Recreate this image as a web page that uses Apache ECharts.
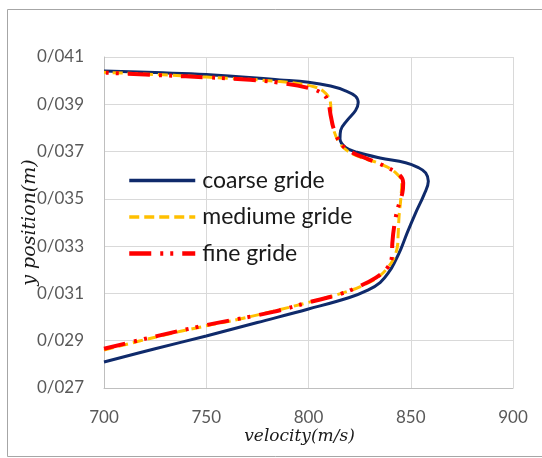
<!DOCTYPE html>
<html>
<head>
<meta charset="utf-8">
<script src="https://cdn.jsdelivr.net/npm/echarts@6/dist/echarts.min.js"></script>
<style>html,body{margin:0;padding:0;background:#fff}#c{width:542px;height:458px}</style>
</head>
<body>
<div id="c"></div>
<script>
// [velocity (m/s), y position (m)]
var coarseGrid = [
  [700.0,0.02810],[725.0,0.02866],[750.0,0.02920],[775.0,0.02977],[800.0,0.03034],
  [820.0,0.03083],[829.0,0.03114],[835.0,0.03146],[839.7,0.03195],[842.3,0.03235],
  [845.1,0.03286],[848.3,0.03357],[852.4,0.03441],[856.5,0.03518],[858.6,0.03574],
  [857.3,0.03610],[853.5,0.03633],[847.5,0.03653],[835.0,0.03673],[823.8,0.03697],
  [818.1,0.03718],[815.4,0.03754],[815.7,0.03789],[818.9,0.03832],[823.0,0.03874],
  [824.3,0.03906],[823.0,0.03934],[818.1,0.03957],[810.8,0.03977],[800.0,0.03993],
  [786.0,0.04003],[750.0,0.04026],[725.0,0.04034],[700.0,0.04041]
];
var mediumGrid = [
  [700.0,0.02860],[725.0,0.02915],[750.0,0.02963],[766.5,0.02992],[800.0,0.03062],
  [820.0,0.03111],[828.5,0.03142],[834.8,0.03174],[839.0,0.03212],[841.5,0.03245],
  [843.5,0.03300],[843.8,0.03342],[844.3,0.03427],[845.1,0.03497],[845.6,0.03568],
  [842.7,0.03610],[835.1,0.03648],[825.4,0.03676],[818.9,0.03704],[814.9,0.03740],
  [812.4,0.03789],[811.1,0.03846],[810.8,0.03903],[808.4,0.03946],[802.7,0.03974],
  [786.0,0.03996],[750.0,0.04015],[725.0,0.04026],[700.0,0.04035]
];
var fineGrid = [
  [700.0,0.02866],[725.0,0.02918],[750.0,0.02966],[782.7,0.03022],[800.0,0.03062],
  [815.3,0.03097],[824.0,0.03127],[833.0,0.03167],[838.6,0.03209],[840.8,0.03258],
  [841.0,0.03314],[841.9,0.03384],[843.5,0.03455],[845.9,0.03525],[846.3,0.03568],
  [844.3,0.03603],[838.0,0.03635],[829.7,0.03666],[821.0,0.03698],[816.0,0.03732],
  [812.6,0.03790],[811.0,0.03846],[809.5,0.03912],[807.0,0.03944],[800.0,0.03969],
  [785.0,0.03992],[771.4,0.04004],[750.0,0.04014],[730.0,0.04022],[700.0,0.04034]
];
var seriesNames = ['coarse gride','mediume gride','fine gride'];
var xTicks = {min:700, max:900, interval:50};
var yTicks = {min:0.027, max:0.041, interval:0.002};

var chart = echarts.init(document.getElementById('c'), null, {renderer:'canvas'});
var labelColor = '#595959';
var colors = ['#0f2a6b','#ffc000','#ff0000'];
var widths = [3.5,3.5,4.5];
var dashes = ['solid',[10,5],[22,9,3,7,3,9]];
chart.setOption({
  backgroundColor:'#ffffff',
  animation:false,
  graphic:[{type:'rect', shape:{x:7.5,y:9.5,width:545,height:447}, style:{fill:'none',stroke:'#a6a6a6',lineWidth:1}, silent:true}],
  grid:{left:104, right:29, top:57, bottom:70},
  legend:{
    orient:'vertical', left:122, top:164,
    itemWidth:66, itemHeight:22, itemGap:13.5,
    data:seriesNames.map(function(n,i){return {name:n, lineStyle:{color:colors[i], width:widths[i], type:dashes[i]}};}),
    itemStyle:{opacity:0},
    textStyle:{fontFamily:'Lato', fontSize:23, color:'#1a1a1a', lineHeight:22, padding:[0,0,0,2]}
  },
  xAxis:{
    type:'value', min:xTicks.min, max:xTicks.max, interval:xTicks.interval,
    name:'velocity(m/s)', nameLocation:'middle', nameGap:40, nameMoveOverlap:false,
    nameTextStyle:{fontFamily:'DejaVu Serif', fontStyle:'italic', fontSize:17, color:'#1a1a1a', padding:[0,18,0,0]},
    axisLine:{lineStyle:{color:'#bfbfbf'}}, axisTick:{show:false},
    axisLabel:{fontFamily:'Lato', fontSize:17, color:labelColor, margin:21},
    splitLine:{lineStyle:{color:'#d9d9d9'}}
  },
  yAxis:{
    type:'value', min:yTicks.min, max:yTicks.max, interval:yTicks.interval,
    name:'y position(m)', nameLocation:'middle', nameGap:64, nameRotate:90, nameMoveOverlap:false,
    nameTextStyle:{fontFamily:'DejaVu Serif', fontStyle:'italic', fontSize:19, color:'#1a1a1a'},
    axisLine:{show:true, lineStyle:{color:'#bfbfbf'}}, axisTick:{show:false},
    axisLabel:{fontFamily:'Lato', fontSize:17, color:labelColor, margin:20,
      formatter:function(v){return v.toFixed(3).replace('.','/');}},
    splitLine:{lineStyle:{color:'#d9d9d9'}}
  },
  series:[
    {name:seriesNames[0], type:'line', data:coarseGrid, smooth:0.4, symbol:'none',
     lineStyle:{color:colors[0], width:3, type:dashes[0]}, itemStyle:{color:colors[0]}, z:2},
    {name:seriesNames[1], type:'line', data:mediumGrid, smooth:0.4, symbol:'none',
     lineStyle:{color:colors[1], width:3, type:dashes[1]}, itemStyle:{color:colors[1]}, z:3},
    {name:seriesNames[2], type:'line', data:fineGrid, smooth:0.4, symbol:'none',
     lineStyle:{color:colors[2], width:4, type:dashes[2]}, itemStyle:{color:colors[2]}, z:4}
  ]
});
</script>
</body>
</html>
